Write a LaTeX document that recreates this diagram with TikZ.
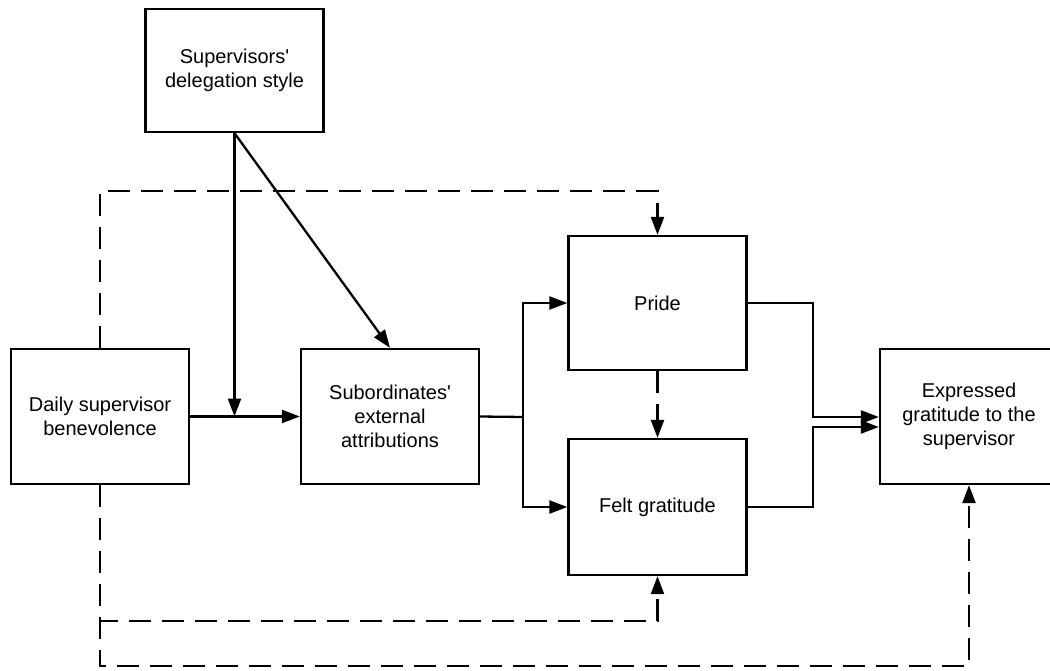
\documentclass[tikz,border=0pt]{standalone}
\usepackage{fontspec}
\setmainfont{Liberation Sans}
\usetikzlibrary{arrows.meta,calc}
\begin{document}
\begin{tikzpicture}[x=1pt,y=-1pt,
  box/.style={draw=black,line width=2.3pt,fill=white,align=center,inner sep=0pt,
    font=\fontsize{20}{24}\selectfont,minimum width=178pt},
  arr/.style={line width=2.3pt,-{Triangle[length=18pt,width=13pt]}},
  plain/.style={line width=2.3pt},
  dsh/.style={line width=2.3pt,dash pattern=on 22pt off 11pt,-{Triangle[length=18pt,width=13pt]}}]
\useasboundingbox (0,0) rectangle (1050,670);
\node[box,minimum height=123pt] (del) at (234.5,70.5) {Supervisors\textquotesingle\\delegation style};
\node[box,minimum height=135pt] (daily) at (100,416.5) {Daily supervisor\\benevolence};
\node[box,minimum height=135pt] (sub) at (390,416.5) {Subordinates\textquotesingle\\external\\attributions};
\node[box,minimum height=134pt] (pride) at (657.5,303) {Pride};
\node[box,minimum height=136pt] (felt) at (657.5,507) {Felt gratitude};
\node[box,minimum height=135pt] (expr) at (969,416.5) {Expressed\\gratitude to the\\supervisor};
\coordinate (m) at (del.south |- daily.east);
\coordinate (br) at (523,417);
\coordinate (jn) at (813,417);
% solid connectors
\draw[arr] (daily.east) -- (sub.west);
\draw[arr] (del.south) -- (m);
\draw[arr] (del.south) -- (sub.north);
\draw[plain] (sub.east) -- (br);
\draw[arr] (br) |- (pride.west);
\draw[arr] (br) |- (felt.west);
\draw[arr] (pride.east) -| (jn) -- (jn -| expr.west);
\draw[arr] (felt.east) -| ($(jn)+(0,10)$) -- ($(jn -| expr.west)+(0,10)$);
% dashed connectors
\draw[dsh] (daily.north) -- (100,191) -| (pride.north);
\draw[dsh] (pride.south) -- (felt.north);
\draw[dsh] (daily.south) -- (100,621) -| (felt.south);
\draw[dsh] (daily.south) -- (100,666) -| (expr.south);
\end{tikzpicture}
\end{document}
